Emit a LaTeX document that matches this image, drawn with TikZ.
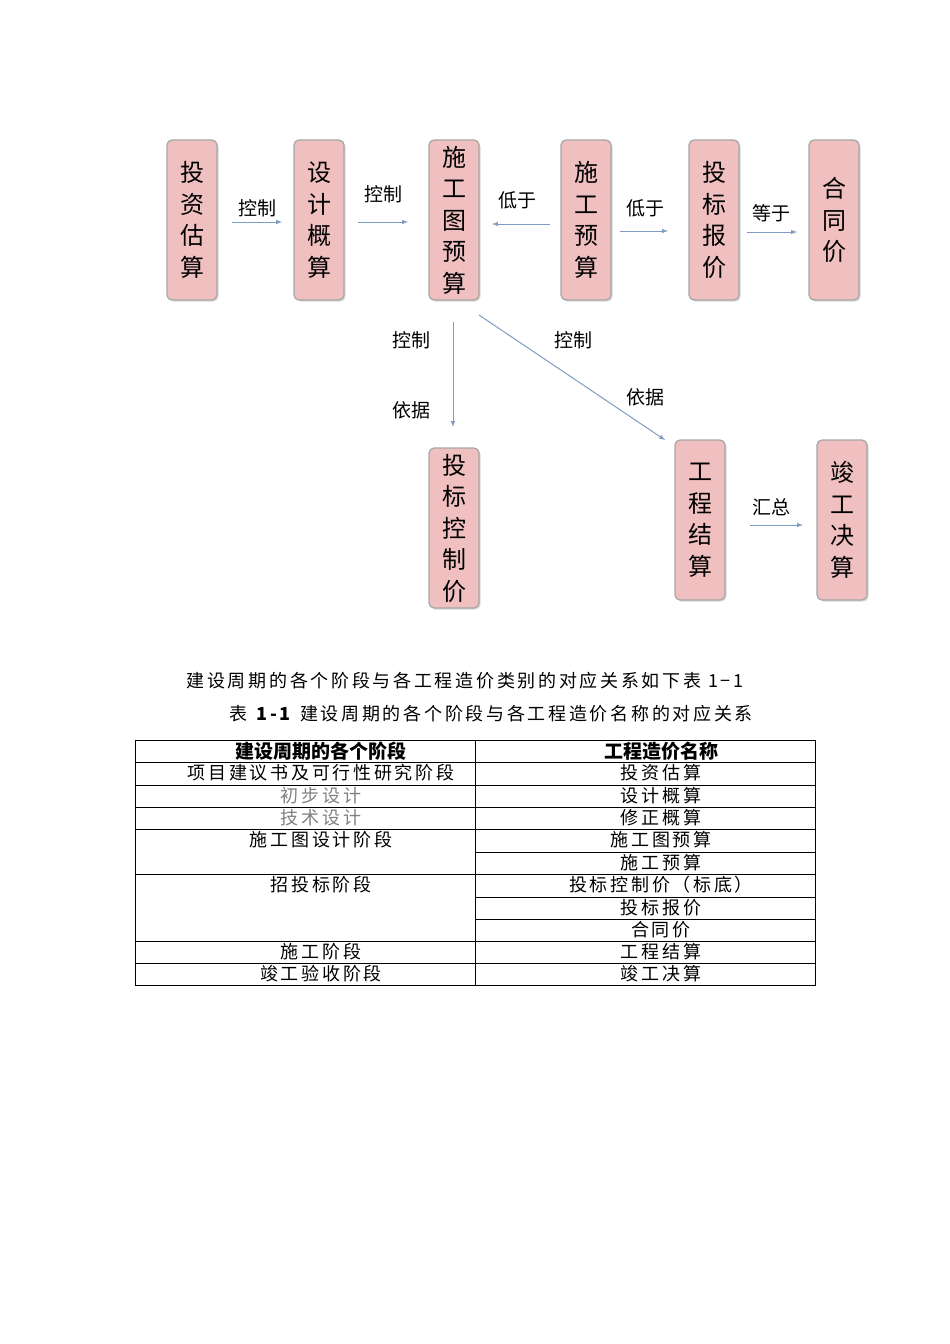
\documentclass[tikz,border=0pt]{standalone}
\usepackage{fontspec}
\newfontfamily\cjk{Noto Sans CJK SC}
\newfontfamily\cjkw[LetterSpace=15]{Noto Sans CJK SC}
\usetikzlibrary{shadows}
\definecolor{boxpink}{HTML}{F0BFBF}
\definecolor{arr}{HTML}{7E9CC2}
\tikzset{
 vbox/.style={draw=gray!70,line width=1.2pt,fill=boxpink,rounded corners=5pt,minimum width=50pt,minimum height=160pt,inner sep=0pt,font=\cjk\fontsize{24}{31.5}\selectfont,align=center,drop shadow={shadow xshift=1.5pt,shadow yshift=-1.5pt,fill=gray!60}},
 flow/.style={draw=arr,line width=1pt,-latex},
 lab/.style={font=\cjk\fontsize{19}{20}\selectfont},
 tx/.style={font=\cjkw\fontsize{18}{20}\selectfont,inner sep=0pt},
 tl/.style={line width=0.8pt}
}
\begin{document}
\begin{tikzpicture}[x=1pt,y=-1pt]
\useasboundingbox (0,0) rectangle (950,1344);
\node[vbox] (a) at (192,220) {投\\资\\估\\算};
\node[vbox] (b) at (319,220) {设\\计\\概\\算};
\node[vbox] (c) at (454,220) {施\\工\\图\\预\\算};
\node[vbox] (d) at (586,220) {施\\工\\预\\算};
\node[vbox] (e) at (714,220) {投\\标\\报\\价};
\node[vbox] (f) at (834,220) {合\\同\\价};
\node[vbox] (g) at (454,528) {投\\标\\控\\制\\价};
\node[vbox] (h) at (700,520) {工\\程\\结\\算};
\node[vbox] (i) at (842,520) {竣\\工\\决\\算};
\coordinate (a1) at (232,222); \coordinate (a2) at (282,222);
\coordinate (b1) at (358,222); \coordinate (b2) at (408,222);
\coordinate (c1) at (550,224); \coordinate (c2) at (492,224);
\coordinate (d1) at (620,231); \coordinate (d2) at (668,231);
\coordinate (e1) at (747,232); \coordinate (e2) at (797,232);
\coordinate (g1) at (453,322); \coordinate (g2) at (453,427);
\coordinate (h1) at (479,315); \coordinate (h2) at (665,440);
\coordinate (i1) at (750,525); \coordinate (i2) at (803,525);
\draw[flow] (a1)--(a2); \draw[flow] (b1)--(b2); \draw[flow] (c1)--(c2);
\draw[flow] (d1)--(d2); \draw[flow] (e1)--(e2); \draw[flow] (g1)--(g2);
\draw[flow] (h1)--(h2); \draw[flow] (i1)--(i2);
\node[lab] (l1) at (257,208) {控制};
\node[lab] (l2) at (383,194) {控制};
\node[lab] (l3) at (517,200) {低于};
\node[lab] (l4) at (645,208) {低于};
\node[lab] (l5) at (771,213) {等于};
\node[lab] (l6) at (411,340) {控制};
\node[lab] (l7) at (411,410) {依据};
\node[lab] (l8) at (573,340) {控制};
\node[lab] (l9) at (645,397) {依据};
\node[lab] (l10) at (771,507) {汇总};
\node[tx] (cap1) at (465,681) {建设周期的各个阶段与各工程造价类别的对应关系如下表 1−1};
\node[tx] (cap2) at (491,714) {表 \textbf{1-1} 建设周期的各个阶段与各工程造价名称的对应关系};
% table
\draw[tl] (135,740) rectangle (815,985);
\draw[tl] (475,740) -- (475,985);
\foreach \yy in {762,785,807,829,874,941,963} \draw[tl] (135,\yy) -- (815,\yy);
\foreach \yy in {852,897,919} \draw[tl] (475,\yy) -- (815,\yy);
\node[tx,font=\cjk\bfseries\fontsize{19}{20}\selectfont] (t0) at (321,751) {建设周期的各个阶段};
\node[tx,font=\cjk\bfseries\fontsize{19}{20}\selectfont] (u0) at (661,751) {工程造价名称};
\node[tx] (t1) at (321,773) {项目建议书及可行性研究阶段};
\node[tx,text=gray] (t2) at (321,796) {初步设计};
\node[tx,text=gray] (t3) at (321,818) {技术设计};
\node[tx] (t4) at (321,840) {施工图设计阶段};
\node[tx] (t5) at (321,885) {招投标阶段};
\node[tx] (t6) at (321,952) {施工阶段};
\node[tx] (t7) at (321,974) {竣工验收阶段};
\node[tx] (u1) at (661,773) {投资估算};
\node[tx] (u2) at (661,796) {设计概算};
\node[tx] (u3) at (661,818) {修正概算};
\node[tx] (u4) at (661,840) {施工图预算};
\node[tx] (u5) at (661,863) {施工预算};
\node[tx] (u6) at (661,885) {投标控制价（标底）};
\node[tx] (u7) at (661,908) {投标报价};
\node[tx] (u8) at (661,930) {合同价};
\node[tx] (u9) at (661,952) {工程结算};
\node[tx] (u10) at (661,974) {竣工决算};
\end{tikzpicture}
\end{document}
